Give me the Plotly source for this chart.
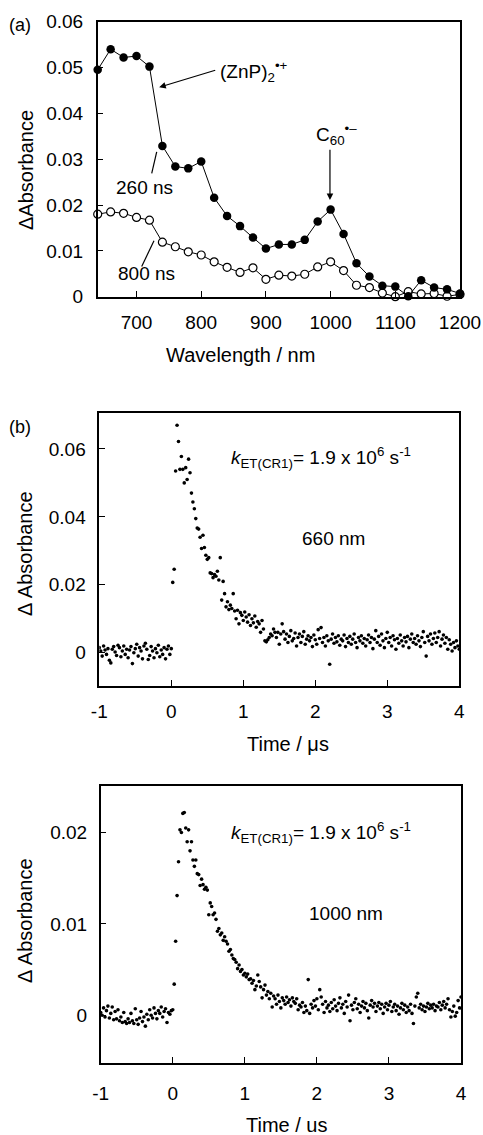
import plotly.graph_objects as go

# ---------------- data ----------------
# Panel (a): transient absorption spectra
wavelength_nm = [640, 660, 680, 700, 720, 740, 760, 780, 800, 820, 840, 860, 880, 900,
                 920, 940, 960, 980, 1000, 1020, 1040, 1060, 1080, 1100, 1120, 1140,
                 1160, 1180, 1200]
abs_260ns = [0.0495, 0.0540, 0.0522, 0.0525, 0.0502, 0.0329, 0.0284, 0.0280, 0.0295,
             0.0216, 0.0176, 0.0154, 0.0129, 0.0105, 0.0114, 0.0114, 0.0124, 0.0164,
             0.0190, 0.0137, 0.0073, 0.0044, 0.0024, 0.0022, 0.0001, 0.0036, 0.0020,
             0.0016, 0.0007]
abs_800ns = [0.0180, 0.0185, 0.0182, 0.0173, 0.0167, 0.0119, 0.0109, 0.0098, 0.0091,
             0.0076, 0.0064, 0.0053, 0.0063, 0.0038, 0.0047, 0.0045, 0.0049, 0.0065,
             0.0076, 0.0057, 0.0025, 0.0020, 0.0008, 0.0000, 0.0011, 0.0006, 0.0007,
             0.0001, 0.0005]

# Panels (b) and (c): decay traces, sampled every 0.02 us starting at -1 us
TIME_START_US = -1.0
TIME_STEP_US = 0.02

decay_660nm = [
    0.0015, 0.0005, -0.0010, 0.0020, 0.0008, -0.0005, 0.0012, -0.0022, -0.0030, 0.0010,
    0.0018, 0.0002, -0.0008, 0.0022, 0.0015, -0.0012, 0.0005, 0.0020, -0.0005, 0.0010,
    -0.0015, 0.0008, 0.0018, -0.0032, 0.0000, 0.0012, 0.0025, -0.0010, 0.0015, 0.0005,
    -0.0018, 0.0020, 0.0028, 0.0010, -0.0020, -0.0008, 0.0018, 0.0005, -0.0015, 0.0012,
    0.0000, 0.0022, -0.0012, 0.0008, -0.0005, 0.0015, -0.0018, 0.0010, 0.0020, -0.0005,
    0.0012, 0.0207, 0.0246, 0.0535, 0.0670, 0.0622, 0.0540, 0.0578, 0.0540, 0.0500,
    0.0545, 0.0510, 0.0570, 0.0530, 0.0470, 0.0444, 0.0424, 0.0395, 0.0367, 0.0364,
    0.0340, 0.0307, 0.0346, 0.0310, 0.0287, 0.0275, 0.0280, 0.0235, 0.0233, 0.0221,
    0.0230, 0.0225, 0.0240, 0.0214, 0.0280, 0.0155, 0.0210, 0.0174, 0.0135, 0.0150,
    0.0127, 0.0140, 0.0130, 0.0174, 0.0123, 0.0100, 0.0125, 0.0085, 0.0118, 0.0110,
    0.0095, 0.0120, 0.0105, 0.0090, 0.0112, 0.0080, 0.0100, 0.0088, 0.0108, 0.0075,
    0.0092, 0.0085, 0.0060, 0.0095, 0.0070, 0.0035, 0.0032, 0.0038, 0.0045, 0.0055,
    0.0050, 0.0070, 0.0060, 0.0045, 0.0060, 0.0025, 0.0055, 0.0085, 0.0062, 0.0040,
    0.0055, 0.0030, 0.0048, 0.0065, 0.0035, 0.0042, 0.0058, 0.0020, 0.0045, 0.0055,
    0.0030, 0.0048, 0.0062, 0.0025, 0.0040, 0.0050, 0.0035, 0.0045, 0.0018, 0.0052,
    0.0038, 0.0025, 0.0068, 0.0042, 0.0074, 0.0030, 0.0045, 0.0020, 0.0050, 0.0035,
    -0.0034, 0.0040, 0.0055, 0.0028, 0.0045, 0.0032, 0.0050, 0.0022, 0.0040, 0.0035,
    0.0052, 0.0018, 0.0042, 0.0030, 0.0048, 0.0025, 0.0040, 0.0055, 0.0030, 0.0015,
    0.0045, 0.0035, 0.0050, 0.0028, 0.0042, 0.0020, 0.0038, 0.0052, 0.0030, 0.0045,
    0.0012, 0.0040, 0.0065, 0.0030, 0.0048, 0.0022, 0.0055, 0.0035, 0.0015, 0.0042,
    0.0060, 0.0030, 0.0045, 0.0020, 0.0050, 0.0038, 0.0010, 0.0042, 0.0028, 0.0052,
    0.0035, 0.0020, 0.0045, 0.0032, 0.0048, 0.0015, 0.0040, 0.0055, 0.0030, 0.0042,
    0.0025, 0.0050, 0.0035, 0.0018, 0.0045, 0.0062, 0.0030, -0.0010, 0.0048, 0.0035,
    0.0055, 0.0025, 0.0042, 0.0058, 0.0030, 0.0045, 0.0062, 0.0020, 0.0040, 0.0052,
    0.0028, 0.0045, 0.0010, 0.0038, 0.0025, 0.0005, 0.0030, 0.0015, 0.0035, 0.0020,
    0.0010,
]

decay_1000nm = [
    0.0003, 0.0000, 0.0008, -0.0002, 0.0005, 0.0010, -0.0003, 0.0002, 0.0009, -0.0005,
    0.0004, -0.0004, 0.0006, -0.0006, -0.0002, -0.0008, 0.0003, -0.0007, -0.0009, -0.0004,
    -0.0008, 0.0002, -0.0006, -0.0009, 0.0007, -0.0005, -0.0010, -0.0003, 0.0004, -0.0007,
    -0.0002, -0.0012, 0.0001, -0.0005, 0.0006, 0.0000, -0.0003, 0.0008, 0.0002, -0.0004,
    0.0005, 0.0002, 0.0009, -0.0002, 0.0004, 0.0007, -0.0008, 0.0003, 0.0001, 0.0005,
    0.0006, 0.0034, 0.0081, 0.0131, 0.0168, 0.0203, 0.0200, 0.0221, 0.0222, 0.0205,
    0.0190, 0.0203, 0.0180, 0.0190, 0.0170, 0.0163, 0.0170, 0.0155, 0.0154, 0.0142,
    0.0149, 0.0143, 0.0138, 0.0140, 0.0137, 0.0110, 0.0123, 0.0119, 0.0110, 0.0112,
    0.0105, 0.0092, 0.0095, 0.0088, 0.0090, 0.0082, 0.0086, 0.0081, 0.0078, 0.0070,
    0.0072, 0.0066, 0.0062, 0.0061, 0.0058, 0.0051, 0.0055, 0.0048, 0.0050, 0.0044,
    0.0046, 0.0042, 0.0045, 0.0039, 0.0040, 0.0035, 0.0038, 0.0028, 0.0032, 0.0044,
    0.0037, 0.0031, 0.0019, 0.0028, 0.0033, 0.0022, 0.0026, 0.0018, 0.0024, 0.0009,
    0.0021, 0.0018, 0.0012, 0.0022, 0.0015, 0.0008, 0.0019, 0.0016, 0.0012, 0.0020,
    0.0014, 0.0017, 0.0010, 0.0019, 0.0015, 0.0013, 0.0018, 0.0006, 0.0011, 0.0009,
    0.0014, 0.0003, 0.0010, 0.0005, 0.0039, 0.0002, 0.0012, 0.0008, 0.0016, 0.0010,
    0.0018, 0.0006, 0.0028, 0.0020, 0.0012, 0.0003, 0.0015, 0.0008, 0.0011, 0.0004,
    0.0014, 0.0007, 0.0017, 0.0010, 0.0005, 0.0013, 0.0019, 0.0008, 0.0012, 0.0002,
    0.0015, 0.0009, 0.0022, -0.0006, 0.0011, 0.0006, 0.0014, 0.0018, 0.0007, 0.0012,
    0.0003, 0.0010, 0.0015, 0.0008, 0.0013, 0.0005, -0.0003, 0.0011, 0.0016, 0.0009,
    0.0013, 0.0004, 0.0010, 0.0014, 0.0007, 0.0012, 0.0002, 0.0009, 0.0013, 0.0006,
    0.0011, 0.0015, 0.0004, 0.0009, 0.0012, 0.0005, 0.0010, 0.0001, 0.0008, 0.0013,
    0.0006, 0.0011, 0.0003, 0.0009, 0.0005, 0.0012, 0.0002, -0.0009, 0.0010, 0.0020,
    0.0024, 0.0008, 0.0012, 0.0006, 0.0010, 0.0004, 0.0009, 0.0013, 0.0007, 0.0011,
    0.0008, 0.0012, 0.0005, 0.0010, 0.0009, 0.0014, 0.0006, 0.0011, 0.0015, 0.0008,
    0.0012, 0.0018, 0.0006, -0.0002, 0.0004, 0.0010, -0.0001, 0.0003, 0.0016, 0.0008,
    0.0020,
]

time_660 = [round(TIME_START_US + i * TIME_STEP_US, 3) for i in range(len(decay_660nm))]
time_1000 = [round(TIME_START_US + i * TIME_STEP_US, 3) for i in range(len(decay_1000nm))]

xticks_a = [700, 800, 900, 1000, 1100, 1200]
xticklabels_a = ["700", "800", "900", "1000", "1100", "1200"]
yticks_a = [0, 0.01, 0.02, 0.03, 0.04, 0.05, 0.06]
yticklabels_a = ["0", "0.01", "0.02", "0.03", "0.04", "0.05", "0.06"]
xticks_t = [-1, 0, 1, 2, 3, 4]
xticklabels_t = ["-1", "0", "1", "2", "3", "4"]
yticks_b = [0, 0.02, 0.04, 0.06]
yticklabels_b = ["0", "0.02", "0.04", "0.06"]
yticks_c = [0, 0.01, 0.02]
yticklabels_c = ["0", "0.01", "0.02"]

# ---------------- figure ----------------
W, H = 483, 1135
FONT = "Liberation Sans, Arial, Helvetica, sans-serif"


def px(x):
    return x / W


def py(y):
    return 1 - y / H


fig = go.Figure()

fig.add_trace(go.Scatter(
    x=wavelength_nm, y=abs_800ns, mode="lines+markers", xaxis="x", yaxis="y",
    line=dict(color="black", width=1), cliponaxis=False,
    marker=dict(symbol="circle", size=8, color="white", line=dict(color="black", width=1.2)),
    showlegend=False))
fig.add_trace(go.Scatter(
    x=wavelength_nm, y=abs_260ns, mode="lines+markers", xaxis="x", yaxis="y",
    line=dict(color="black", width=1), cliponaxis=False,
    marker=dict(symbol="circle", size=8.5, color="black"),
    showlegend=False))
fig.add_trace(go.Scatter(
    x=time_660, y=decay_660nm, mode="markers", xaxis="x2", yaxis="y2",
    marker=dict(size=3.6, color="black"), showlegend=False))
fig.add_trace(go.Scatter(
    x=time_1000, y=decay_1000nm, mode="markers", xaxis="x3", yaxis="y3",
    marker=dict(size=3.6, color="black"), showlegend=False))

axis_common = dict(
    showline=True, linecolor="black", linewidth=1.5, mirror=True,
    ticks="inside", ticklen=6, tickwidth=1.2, tickcolor="black",
    showgrid=False, zeroline=False, automargin=False,
    tickfont=dict(family=FONT, size=19, color="black"),
)

fig.update_layout(
    width=W, height=H,
    margin=dict(l=0, r=0, t=0, b=0, pad=0, autoexpand=False),
    paper_bgcolor="white", plot_bgcolor="white",
    font=dict(family=FONT, color="black"),
    xaxis=dict(axis_common, domain=[px(97.7), px(460)], range=[640, 1200],
               tickvals=xticks_a, ticktext=xticklabels_a, anchor="y", ticklabelstandoff=8),
    yaxis=dict(axis_common, domain=[py(296.7), py(21.7)], range=[0, 0.06],
               tickvals=yticks_a, ticktext=yticklabels_a, anchor="x", ticklabelstandoff=9),
    xaxis2=dict(axis_common, domain=[px(99.3), px(459.3)], range=[-1.0, 4.0],
                tickvals=xticks_t, ticktext=xticklabels_t, anchor="y2", ticklabelstandoff=7),
    yaxis2=dict(axis_common, domain=[py(686), py(413.3)], range=[-0.0098, 0.0705],
                tickvals=yticks_b, ticktext=yticklabels_b, anchor="x2", ticklabelstandoff=8),
    xaxis3=dict(axis_common, domain=[px(100.7), px(461)], range=[-1.0, 4.0],
                tickvals=xticks_t, ticktext=xticklabels_t, anchor="y3", ticklabelstandoff=13),
    yaxis3=dict(axis_common, domain=[py(1062.7), py(786)], range=[-0.0052, 0.0251],
                tickvals=yticks_c, ticktext=yticklabels_c, anchor="x3", ticklabelstandoff=8),
)

ann = []


def paper_text(text, x, y, size=20, xanchor="center", angle=0):
    ann.append(dict(text=text, x=px(x), y=py(y), xref="paper", yref="paper",
                    showarrow=False, xanchor=xanchor, yanchor="middle",
                    textangle=angle, font=dict(family=FONT, size=size, color="black")))


# panel labels and axis titles
paper_text("(a)", 20, 25, size=18)
paper_text("(b)", 20, 427, size=18)
paper_text("ΔAbsorbance", 26, 170, angle=-90)
paper_text("Wavelength / nm", 240, 355)
paper_text("Δ Absorbance", 25, 554, angle=-90)
paper_text("Time / μs", 288, 744)
paper_text("Δ Absorbance", 25, 921, angle=-90)
paper_text("Time / us", 287, 1125)

# panel (b)/(c) annotations
KTEXT = "<i>k</i><sub>ET(CR1)</sub>= 1.9 x 10<sup>6</sup> s<sup>-1</sup>"
paper_text(KTEXT, 229, 457, size=19, xanchor="left")
paper_text("660 nm", 333, 538, size=19)
paper_text(KTEXT, 229, 832, size=19, xanchor="left")
paper_text("1000 nm", 346, 913, size=19)

# panel (a) annotations (data coordinates)
ann.append(dict(text="(ZnP)<sub>2</sub><sup>•+</sup>", x=826, y=0.0492, xref="x", yref="y",
                showarrow=False, xanchor="left", yanchor="middle",
                font=dict(family=FONT, size=19, color="black")))
ann.append(dict(text="", x=735, y=0.0457, ax=824, ay=0.0495, xref="x", yref="y",
                axref="x", ayref="y", showarrow=True, arrowhead=2, arrowsize=1.1,
                arrowwidth=1.2, arrowcolor="black"))
ann.append(dict(text="C<sub>60</sub><sup>•–</sup>", x=1009, y=0.0353, xref="x", yref="y",
                showarrow=False, xanchor="center", yanchor="middle",
                font=dict(family=FONT, size=19, color="black")))
ann.append(dict(text="", x=999, y=0.0211, ax=999, ay=0.0324, xref="x", yref="y",
                axref="x", ayref="y", showarrow=True, arrowhead=2, arrowsize=1.1,
                arrowwidth=1.2, arrowcolor="black"))
ann.append(dict(text="260 ns", x=712, y=0.0239, xref="x", yref="y", showarrow=False,
                font=dict(family=FONT, size=19, color="black")))
ann.append(dict(text="800 ns", x=715, y=0.0050, xref="x", yref="y", showarrow=False,
                font=dict(family=FONT, size=19, color="black")))

fig.update_layout(annotations=ann)

fig.add_shape(type="line", xref="x", yref="y", x0=723.5, y0=0.0269, x1=731.2, y1=0.0316,
              line=dict(color="black", width=1.2))
fig.add_shape(type="line", xref="x", yref="y", x0=708, y0=0.0066, x1=727, y1=0.0122,
              line=dict(color="black", width=1.2))

fig.write_html(
    "out.html",
    config={"displayModeBar": False},
    post_script="document.body.style.margin='0px';document.body.style.overflow='hidden';",
)
